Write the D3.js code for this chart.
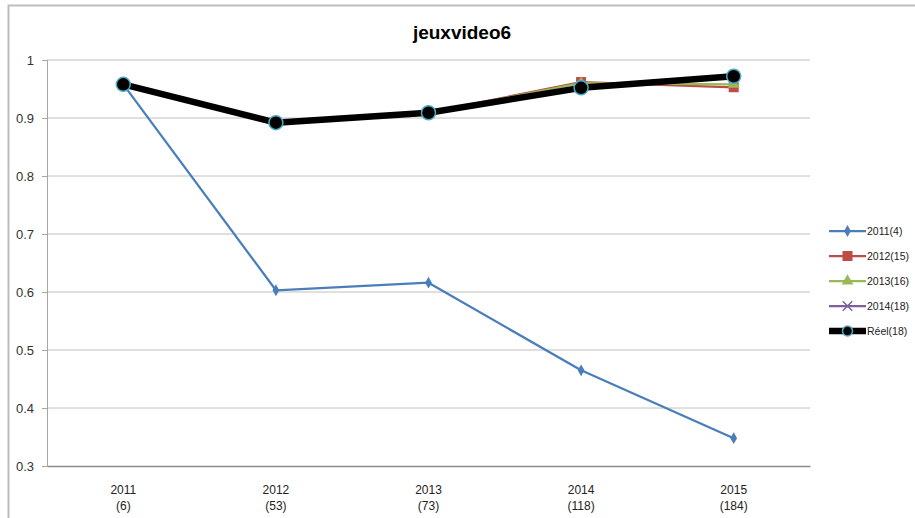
<!DOCTYPE html>
<meta charset="utf-8">
<script src="https://d3js.org/d3.v7.min.js"></script>
<style>
  body { margin: 0; background: #fff; }
  text { font-family: "Liberation Sans", Arial, sans-serif; }
</style>
<div id="chart"></div>
<script>
    // data
    const years = ["2011", "2012", "2013", "2014", "2015"];
    const counts = ["(6)", "(53)", "(73)", "(118)", "(184)"];
    const yTicks = [0.3, 0.4, 0.5, 0.6, 0.7, 0.8, 0.9, 1];
    const pred2011 = [0.958, 0.603, 0.616, 0.465, 0.348];
    const pred2012 = [null, 0.892, 0.909, 0.962, 0.953];
    const pred2013 = [null, null, 0.909, 0.960, 0.958];
    const pred2014 = [null, null, null, 0.952, 0.970];
    const reel = [0.958, 0.892, 0.909, 0.952, 0.972];

    const series = [
        {name: "2011(4)", values: pred2011, color: "#4a7ebb", marker: "diamond", width: 2.25},
        {name: "2012(15)", values: pred2012, color: "#be4b48", marker: "square", width: 2.25},
        {name: "2013(16)", values: pred2013, color: "#98b954", marker: "triangle", width: 2.25},
        {name: "2014(18)", values: pred2014, color: "#7d60a0", marker: "cross", width: 2.25},
        {name: "Réel(18)", values: reel, color: "#000", marker: "circle", width: 6.5}
    ];

    const W = 915, H = 518;
    const margin = {top: 60, right: 105, bottom: 52, left: 47};
    const width = W - margin.left - margin.right,
        height = H - margin.top - margin.bottom;

    const svg = d3.select("#chart").append("svg")
        .attr("width", W)
        .attr("height", H);

    // outer frame
    svg.append("path")
        .attr("d", `M8.5,${H} V5.5 H${W}`)
        .attr("fill", "none")
        .attr("stroke", "#bdbdbd")
        .attr("stroke-width", 2);

    svg.append("text")
        .attr("x", 462).attr("y", 39)
        .attr("text-anchor", "middle")
        .attr("font-size", 19).attr("font-weight", "bold")
        .text("jeuxvideo6");

    const g = svg.append("g")
        .attr("transform", `translate(${margin.left}, ${margin.top})`);

    const x = d3.scaleBand().domain(years).range([0, width]);
    const y = d3.scaleLinear().domain([0.3, 1]).range([height, 0]);

    // gridlines
    g.append("g")
        .selectAll("line")
        .data(yTicks.slice(1))
        .join("line")
            .attr("x1", 0).attr("x2", width)
            .attr("y1", d => y(d)).attr("y2", d => y(d))
            .attr("stroke", "#c0c0c0");

    const yAxis = g.append("g")
        .call(d3.axisLeft(y).tickValues(yTicks).tickSize(5).tickPadding(8)
            .tickFormat(d => d === 1 ? "1" : d3.format(".1f")(d)));
    yAxis.select(".domain").attr("stroke", "#a6a6a6");
    yAxis.selectAll(".tick line").attr("stroke", "#a6a6a6");
    yAxis.selectAll("text").attr("font-size", 13).attr("fill", "#333");

    const xAxis = g.append("g")
        .attr("transform", `translate(0, ${height})`)
        .call(d3.axisBottom(x).tickSize(0).tickFormat(""));
    xAxis.select(".domain").attr("stroke", "#8c8c8c").attr("stroke-width", 1.5);
    xAxis.selectAll(".tick").each(function(d, i) {
        const t = d3.select(this).append("text")
            .attr("fill", "#222").attr("font-size", 12)
            .attr("text-anchor", "middle");
        t.append("tspan").attr("x", 0).attr("y", 28).text(years[i]);
        t.append("tspan").attr("x", 0).attr("y", 44).text(counts[i]);
    });

    const cx = d => x(d) + x.bandwidth() / 2;

    function drawMarker(sel, s, px, py) {
        if (s.marker === "diamond") {
            sel.append("path").attr("d", d3.symbol(d3.symbolDiamond, 40)())
                .attr("transform", `translate(${px},${py})`).attr("fill", s.color);
        } else if (s.marker === "square") {
            sel.append("rect").attr("x", px - 5).attr("y", py - 5)
                .attr("width", 10).attr("height", 10).attr("fill", s.color);
        } else if (s.marker === "triangle") {
            sel.append("path").attr("d", d3.symbol(d3.symbolTriangle, 60)())
                .attr("transform", `translate(${px},${py})`).attr("fill", s.color);
        } else if (s.marker === "cross") {
            sel.append("path").attr("d", d3.symbol(d3.symbolTimes, 60)())
                .attr("transform", `translate(${px},${py})`).attr("fill", "none")
                .attr("stroke", s.color).attr("stroke-width", 1.5);
        } else {
            sel.append("circle").attr("cx", px).attr("cy", py).attr("r", 7)
                .attr("fill", "#000").attr("stroke", "#4bacc6").attr("stroke-width", 1.5);
        }
    }

    const line = d3.line()
        .defined(d => d.v !== null)
        .x(d => cx(d.year))
        .y(d => y(d.v));

    series.forEach(s => {
        const pts = years.map((yr, i) => ({year: yr, v: s.values[i]}));
        g.append("path")
            .datum(pts)
            .attr("fill", "none")
            .attr("stroke", s.color)
            .attr("stroke-width", s.width)
            .attr("stroke-linejoin", "round")
            .attr("d", line);
        const mg = g.append("g");
        pts.filter(d => d.v !== null).forEach(d => drawMarker(mg, s, cx(d.year), y(d.v)));
    });

    // legend
    const legend = svg.append("g").attr("transform", "translate(829, 231)");
    series.forEach((s, i) => {
        const row = legend.append("g").attr("transform", `translate(0, ${i * 25})`);
        row.append("line").attr("x1", 0).attr("x2", 37).attr("y1", 0).attr("y2", 0)
            .attr("stroke", s.color).attr("stroke-width", s.width);
        if (s.marker === "circle") {
            row.append("circle").attr("cx", 18.5).attr("cy", 0).attr("r", 5)
                .attr("fill", "#000").attr("stroke", "#4bacc6").attr("stroke-width", 1.5);
        } else {
            drawMarker(row, s, 18.5, 0);
        }
        row.append("text").attr("x", 38).attr("y", 4)
            .attr("font-size", 10.5).attr("fill", "#222").text(s.name);
    });
</script>
